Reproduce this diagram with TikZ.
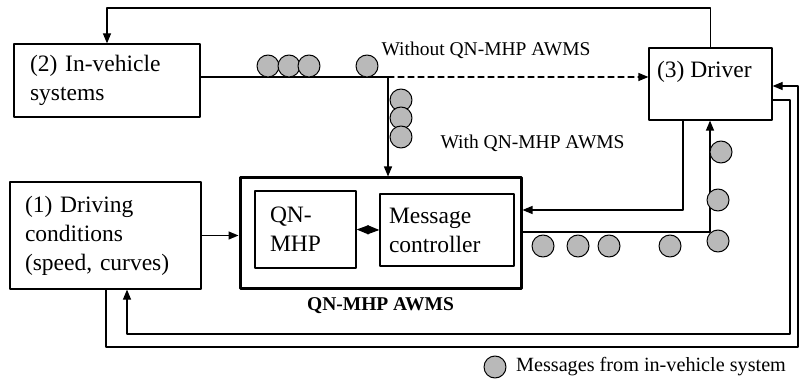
\documentclass[tikz,border=0pt]{standalone}
\usepackage{fontspec}
\setmainfont{Liberation Serif}
\usetikzlibrary{arrows.meta,positioning}

\newcommand{\boxfont}{\fontsize{23.5}{29}\selectfont}
\newcommand{\lblfont}{\fontsize{19.5}{23}\selectfont}

\begin{document}
\begin{tikzpicture}[x=1pt,y=-1pt,line cap=round,line join=round,line width=1.2pt,
  >={Triangle[length=10pt,width=8pt]},
  box/.style={draw,line width=1.2pt,align=left,font=\boxfont,inner sep=0pt},
  msg/.style={circle,draw,line width=1pt,fill=gray!55,minimum size=22pt,inner sep=0pt},
  diam/.style={{Triangle[length=12pt,width=9pt]}-{Triangle[length=12pt,width=9pt]}}]
 	\useasboundingbox (0,0) rectangle (799,379);
 	% boxes
 	\node[box,minimum width=186pt,minimum height=73pt,text width=154pt] (ivs) at (107,80.5) {(2) In-vehicle\\systems};
 	\node[box,minimum width=191pt,minimum height=107pt,text width=161pt] (drvc) at (105.5,235.5) {(1) Driving\\conditions\\(speed, curves)};
 	\node[box,minimum width=123pt,minimum height=72pt] (drv) at (710.5,84) {};
 	\node[anchor=west,font=\boxfont,inner sep=0pt] (drvtxt) at ([xshift=8pt,yshift=-24pt]drv.north west) {(3) Driver};
 	\node[box,line width=3pt,minimum width=281pt,minimum height=110pt] (awms) at (380.5,233) {};
 	\node[box,minimum width=101pt,minimum height=77pt,text width=71pt] (qn) at (305.5,229.5) {QN-\\MHP};
 	\node[box,minimum width=134pt,minimum height=72pt,text width=116pt] (mc) at (447,230) {Message\\controller};
 	\node[below=7pt of awms,font=\lblfont\bfseries,inner sep=0pt] (awmslbl) {QN-MHP AWMS};
 	% helper points
 	\coordinate (top) at (0,8);
 	\coordinate (split) at (388,77);
 	\coordinate (d2) at (683,210);
 	\coordinate (m2) at (710,232);
 	\coordinate (r1) at (790,100);
 	\coordinate (b1) at (127,334);
 	\coordinate (b2) at (106,347);
 	\coordinate (r2) at (798,86);
 	% connectors
 	\draw [->] (drv.north) -- (drv.north |- top) -| (ivs.north);
 	\draw (ivs.east |- split) -- (split);
 	\draw [->] (split) -- (split |- awms.north);
 	\draw [->,dashed,dash pattern=on 6pt off 4pt] (split) -- (split -| drv.west);
 	\draw [->] (drvc.east) -- (drvc.east -| awms.west);
 	\draw [diam] (qn.east) -- (mc.west);
 	\draw [->] (drv.south -| d2) -- (d2) -- (d2 -| awms.east);
 	\draw [->] (awms.east |- m2) -- (m2) -- (drv.south -| m2);
 	\draw [->] (drv.east |- r1) -- (r1) |- (b1) -- (b1 |- drvc.south);
 	\draw [->] (drvc.south -| b2) -- (b2) -| (r2) -- (r2 -| drv.east);
 	% messages
 	\node[msg] (t1) at (268,66) {};
 	\node[msg] (t2) at (289,66) {};
 	\node[msg] (t3) at (309,66) {};
 	\node[msg] (t4) at (367,66) {};
 	\node[msg] (v1) at (401,100) {};
 	\node[msg] (v2) at (401,118) {};
 	\node[msg] (v3) at (401,137) {};
 	\node[msg] (o1) at (543,246) {};
 	\node[msg] (o2) at (578,246) {};
 	\node[msg] (o3) at (609,246) {};
 	\node[msg] (o4) at (670,246) {};
 	\node[msg] (u1) at (718,241) {};
 	\node[msg] (u2) at (718,200) {};
 	\node[msg] (u3) at (721,152) {};
 	% texts
 	\node[anchor=west,font=\lblfont,inner sep=0pt] (without) at (381,50) {Without QN-MHP AWMS};
 	\node[anchor=west,font=\lblfont,inner sep=0pt] (with) at (440,143) {With QN-MHP AWMS};
 	\node[msg] (leg) at (495,367) {};
 	\node[right=9pt of leg,font=\fontsize{20.2}{24}\selectfont,inner sep=0pt] (legtxt) {Messages from in-vehicle system};
\end{tikzpicture}
\end{document}
